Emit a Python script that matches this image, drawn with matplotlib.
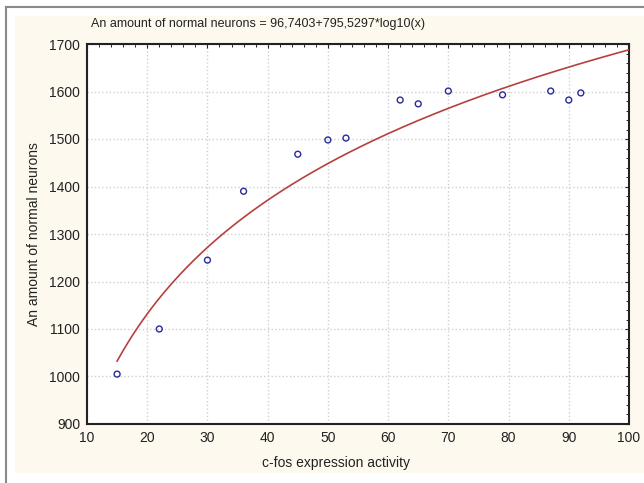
import numpy as np
from matplotlib import pyplot as plt
from matplotlib.ticker import MultipleLocator
from matplotlib.patches import Rectangle
from matplotlib.lines import Line2D

plt.rcParams['font.family'] = ['Liberation Sans', 'DejaVu Sans']

# measured points
cfos = [15, 22, 30, 36, 45, 50, 53, 62, 65, 70, 79, 87, 90, 92]
neurons = [1005, 1100, 1245, 1390, 1468, 1498, 1502, 1582, 1574, 1601, 1593, 1601, 1582, 1597]

# regression coefficients from the title
a_coef = 96.7403
b_coef = 795.5297

xticks = [10, 20, 30, 40, 50, 60, 70, 80, 90, 100]
yticks = [900, 1000, 1100, 1200, 1300, 1400, 1500, 1600, 1700]

fig = plt.figure(figsize=(6.44, 4.83), dpi=100)
fig.patch.set_facecolor('white')

# cream panel and outer frame lines
fig.patches.append(Rectangle((15/644, 1-473/483), 629/644, 457/483, transform=fig.transFigure,
                             facecolor='#fdf9ef', edgecolor='none', zorder=-5))
fig.lines.append(Line2D([6/644, 6/644], [0, 1-7/483], transform=fig.transFigure, color='#8a8a8a', lw=1.5, zorder=-4))
fig.lines.append(Line2D([6/644, 1], [1-7/483, 1-7/483], transform=fig.transFigure, color='#8a8a8a', lw=1.5, zorder=-4))

ax = fig.add_axes([87/644, 1-424/483, 542/644, 380/483])
ax.set_zorder(2)
ax.set_facecolor('white')

xs = np.linspace(15, 100, 200)
ax.plot(xs, a_coef + b_coef*np.log10(xs), color='#b5413c', lw=1.2, zorder=3)
ax.scatter(cfos, neurons, s=18, facecolors='none', edgecolors='#2a2a9a', linewidths=1.0, zorder=4)

ax.set_xlim(10, 100)
ax.set_ylim(900, 1700)
ax.set_xticks(xticks)
ax.set_yticks(yticks)
ax.xaxis.set_minor_locator(MultipleLocator(2))
ax.yaxis.set_minor_locator(MultipleLocator(20))
ax.tick_params(which='major', direction='in', length=3, labelsize=10, colors='#222222',
               top=True, right=True, bottom=False, left=False, pad=5)
ax.tick_params(which='minor', direction='in', length=2, top=True, right=True, bottom=False, left=False)
ax.grid(True, which='major', linestyle=':', color='#d0d0d0', lw=1)
for s in ax.spines.values():
    s.set_linewidth(1.5)
    s.set_color('#222222')

ax.set_xlabel('c-fos expression activity', fontsize=10, labelpad=8, color='#222222')
ax.xaxis.set_label_coords(0.46, -0.085)
ax.set_ylabel('An amount of normal neurons', fontsize=10, labelpad=6, color='#222222')
fig.text(258/644, 1-24/483, 'An amount of normal neurons = 96,7403+795,5297*log10(x)',
         fontsize=9, ha='center', va='center', color='#222222')

fig.savefig('out.png', dpi=100)
